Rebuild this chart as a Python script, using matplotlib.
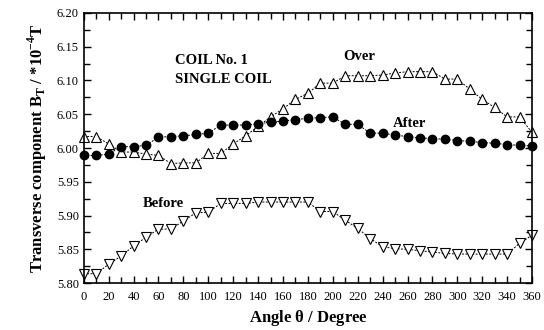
import matplotlib
matplotlib.use("Agg")
import matplotlib.pyplot as plt
import numpy as np

plt.rcParams["font.family"] = ["Liberation Serif", "DejaVu Serif"]
plt.rcParams["mathtext.fontset"] = "custom"
plt.rcParams["mathtext.rm"] = "Liberation Serif"
plt.rcParams["mathtext.bf"] = "Liberation Serif:bold"

angle = np.arange(0, 361, 10)

over = [6.017, 6.017, 6.006, 5.994, 5.994, 5.991, 5.989, 5.977, 5.978, 5.978,
        5.992, 5.992, 6.006, 6.018, 6.032, 6.046, 6.058, 6.072, 6.081, 6.096,
        6.096, 6.107, 6.107, 6.107, 6.108, 6.111, 6.113, 6.113, 6.113, 6.102,
        6.102, 6.087, 6.072, 6.060, 6.046, 6.046, 6.023]

after = [5.989, 5.989, 5.991, 6.002, 6.002, 6.004, 6.016, 6.017, 6.018, 6.020,
         6.022, 6.034, 6.034, 6.034, 6.036, 6.038, 6.040, 6.042, 6.044, 6.045,
         6.046, 6.035, 6.035, 6.022, 6.022, 6.019, 6.017, 6.015, 6.014, 6.013,
         6.011, 6.010, 6.008, 6.007, 6.005, 6.004, 6.003]

before = [5.814, 5.814, 5.828, 5.840, 5.855, 5.868, 5.880, 5.880, 5.892, 5.904,
          5.905, 5.918, 5.918, 5.918, 5.920, 5.920, 5.920, 5.920, 5.920, 5.906,
          5.906, 5.893, 5.881, 5.866, 5.854, 5.851, 5.850, 5.848, 5.846, 5.844,
          5.843, 5.843, 5.843, 5.843, 5.843, 5.859, 5.871]

fig = plt.figure(figsize=(5.44, 3.30), dpi=100)
ax = fig.add_axes([0.154, 0.142, 0.824, 0.819])

line_kw = dict(color="black", linestyle=(0, (2, 1.5)), linewidth=0.7, clip_on=False)
ax.plot(angle, over, marker="^", markersize=6.5, markerfacecolor="white",
        markeredgecolor="black", markeredgewidth=0.8, **line_kw)
ax.plot(angle, before, marker="v", markersize=6.5, markerfacecolor="white",
        markeredgecolor="black", markeredgewidth=0.8, **line_kw)
ax.plot(angle, after, marker="o", markersize=6, markerfacecolor="black",
        markeredgecolor="black", **line_kw)

ax.set_xlim(0, 360)
ax.set_ylim(5.80, 6.20)
ax.set_xticks(np.arange(0, 361, 20))
ax.set_xticks(np.arange(0, 361, 10), minor=True)
ax.set_yticks(np.arange(5.80, 6.201, 0.05))
ax.set_yticks(np.arange(5.80, 6.201, 0.025), minor=True)
ax.yaxis.set_major_formatter(matplotlib.ticker.FormatStrFormatter("%.2f"))
ax.tick_params(which="both", direction="in", top=True, right=True,
               labelsize=9, width=1.0)
ax.tick_params(which="major", length=5)
ax.tick_params(which="minor", length=4)
ax.tick_params(axis="x", pad=6)
for s in ax.spines.values():
    s.set_linewidth(1.2)

ax.set_xlabel(r"Angle $\mathbf{\theta}$ / Degree", fontsize=12, fontweight="bold", labelpad=3)
ax.set_ylabel(r"Transverse component B$_\mathbf{T}$ / *10$^\mathbf{-4}$T",
              fontsize=12, fontweight="bold", labelpad=6)

ax.text(73, 6.130, "COIL No. 1", fontsize=10.5, fontweight="bold", va="center")
ax.text(73, 6.101, "SINGLE COIL", fontsize=10.5, fontweight="bold", va="center")
ax.text(221, 6.135, "Over", fontsize=10.5, fontweight="bold", ha="center", va="center")
ax.text(262, 6.037, "After", fontsize=10.5, fontweight="bold", ha="center", va="center")
ax.text(64, 5.918, "Before", fontsize=10.5, fontweight="bold", ha="center", va="center")

fig.savefig("out.png", dpi=100, facecolor="white")
plt.close(fig)
